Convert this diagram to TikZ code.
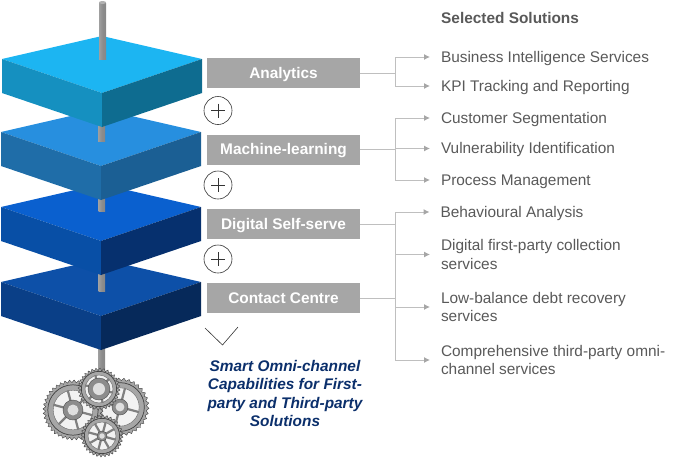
\documentclass[tikz,border=0pt]{standalone}
\usepackage{fontspec}
\setmainfont{Liberation Sans}
\usetikzlibrary{arrows.meta}
\definecolor{txtgray}{HTML}{595959}
\definecolor{boxgray}{HTML}{A6A6A6}
\definecolor{linegray}{HTML}{BFBFBF}
\definecolor{navy}{HTML}{0B2F6B}
\definecolor{anatop}{HTML}{1CB5F2}
\definecolor{analeft}{HTML}{1590C0}
\definecolor{anaright}{HTML}{0E6C90}
\definecolor{mactop}{HTML}{278FDF}
\definecolor{macleft}{HTML}{1F6DA8}
\definecolor{macright}{HTML}{1B5F94}
\definecolor{digtop}{HTML}{0A60CF}
\definecolor{digleft}{HTML}{084FA6}
\definecolor{digright}{HTML}{06306E}
\definecolor{contop}{HTML}{0D50A8}
\definecolor{conleft}{HTML}{0A3F87}
\definecolor{conright}{HTML}{06295A}
\tikzset{
  box/.style={fill=boxgray, text=white, font=\fontsize{15.4}{18}\selectfont\bfseries, minimum width=153pt, minimum height=30pt, inner sep=0pt, text height=10.7pt, text depth=0pt},
  sol/.style={anchor=west, align=left, text=txtgray, font=\fontsize{15.4}{18.4}\selectfont, inner sep=0pt, outer xsep=11pt},
  solone/.style={sol, text height=10.7pt, text depth=0pt},
  plus/.style={circle, draw=black!80, line width=0.6pt, minimum size=28pt, inner sep=0pt},
  branch/.style={draw=linegray, line width=1pt},
  arr/.style={branch, -{Latex[length=6pt,width=6pt,color=boxgray]}},
  rod/.style={left color=gray!75, right color=gray!95, middle color=gray!110!black},
}
% one slab: left corner x, y of the top face, then top, left and right colours
\newcommand{\slab}[5]{
  \fill[#3] (#1,#2) -- (#1+100,#2-23) -- (#1+200,#2) -- (#1+100,#2+34) -- cycle;
  \fill[#4] (#1,#2) -- (#1+100,#2+34) -- (#1+100,#2+68) -- (#1,#2+34) -- cycle;
  \fill[#5] (#1+200,#2) -- (#1+100,#2+34) -- (#1+100,#2+68) -- (#1+200,#2+34) -- cycle;
}
% one gear: centre x, y, radius, teeth, spoke angle step, hub radius
\newcommand{\gearwheel}[6]{
  \fill[gray!70, draw=black!75, line width=0.4pt] plot[samples=4*#4+1, domain=0:360] ({#1+(#3-1.3+1.3*sin(#4*\x))*cos(\x)}, {#2+(#3-1.3+1.3*sin(#4*\x))*sin(\x)}) -- cycle;
  \draw[black!75, line width=0.7pt] (#1,#2) circle ({#3*0.84});
  \fill[black!35] (#1,#2) circle ({#3*0.79});
  \fill[white!90!gray, draw=black!60, line width=0.4pt] (#1,#2) circle ({#3*0.66});
  \foreach \a in {0,#5,...,359}
    \draw[black!50, line width=2.2pt] (#1,#2) -- ({#1+#3*0.68*cos(\a+15)}, {#2+#3*0.68*sin(\a+15)});
  \fill[black!45, draw=black!70, line width=0.4pt] (#1,#2) circle (#6);
  \fill[white!75!gray] (#1,#2) circle ({#6*0.55});
}
\begin{document}
\begin{tikzpicture}[x=1pt, y=-1pt]
  \useasboundingbox (0,0) rectangle (697,475);

  % centre rod under the last slab
  \shade[rod] (98,345) rectangle (105,372);

  % gears
  \gearwheel{120}{407}{29}{34}{90}{8}
  \gearwheel{73}{410}{30}{40}{60}{10}
  \gearwheel{99}{389}{21}{32}{60}{11}
  \gearwheel{102}{436}{21}{32}{45}{5}

  % slabs, lowest first
  \slab{1}{282}{contop}{conleft}{conright}
  \shade[rod] (98.5,272) rectangle (105,291);
  \slab{1}{207}{digtop}{digleft}{digright}
  \shade[rod] (98.5,197) rectangle (105,211);
  \slab{1}{132}{mactop}{macleft}{macright}
  \shade[rod] (98,122) rectangle (105,141);
  \slab{2}{59}{anatop}{analeft}{anaright}
  \shade[rod] (99,3) rectangle (106,59);
  \fill[gray!60] (102.5,2.5) ellipse (3.5 and 1.5);

  % labels
  \node[box] (ana) at (283.5,73) {Analytics};
  \node[box] (mac) at (283.5,149.5) {Machine-learning};
  \node[box] (dig) at (283.5,224) {Digital Self-serve};
  \node[box] (con) at (283.5,298) {Contact Centre};

  \node[plus] (p1) at (218,110.5) {};
  \node[plus] (p2) at (218,185) {};
  \node[plus] (p3) at (218,259) {};
  \draw[black!80, line width=0.5pt] (p1.center) +(-7,0) -- +(7,0) +(0,-7) -- +(0,7);
  \draw[black!80, line width=0.5pt] (p2.center) +(-7,0) -- +(7,0) +(0,-7) -- +(0,7);
  \draw[black!80, line width=0.5pt] (p3.center) +(-7,0) -- +(7,0) +(0,-7) -- +(0,7);

  \coordinate (va) at (205,328);
  \coordinate (vb) at (222.5,345);
  \coordinate (vc) at (238,327);
  \draw[black!80, line width=0.6pt] (va) -- (vb) -- (vc);

  \node[font=\fontsize{15.4}{18.4}\selectfont\bfseries\itshape, text=navy, align=center, inner sep=0pt] (cap) at (285,393.5)
    {Smart Omni-channel\\Capabilities for First-\\party and Third-party\\Solutions};

  % solutions
  \node[font=\fontsize{15.4}{18}\selectfont\bfseries, text=txtgray, anchor=west, inner sep=0pt] (head) at (441,18) {Selected Solutions};
  \node[solone] (s1) at (430,57) {Business Intelligence Services};
  \node[solone] (s2) at (430,86) {KPI Tracking and Reporting};
  \node[solone] (s3) at (430,118) {Customer Segmentation};
  \node[solone] (s4) at (430,148.5) {Vulnerability Identification};
  \node[solone] (s5) at (430,180) {Process Management};
  \node[solone] (s6) at (429.5,212) {Behavioural Analysis};
  \node[sol] (s7) at (430,254.5) {Digital first-party collection\\services};
  \node[sol] (s8) at (430,307) {Low-balance debt recovery\\services};
  \node[sol] (s9) at (430,360) {Comprehensive third-party omni-\\channel services};

  % connectors
  \coordinate (b1) at (395,73);
  \coordinate (b2) at (395,149.5);
  \coordinate (b3) at (395,224);
  \coordinate (b4) at (395,298);
  \draw[branch] (ana) -- (b1);
  \draw[branch] (mac) -- (b2);
  \draw[branch] (dig) -- (b3);
  \draw[branch] (con) -- (b4);
  \draw[arr] (b1) |- (s1);
  \draw[arr] (b1) |- (s2);
  \draw[arr] (b2) |- (s3);
  \draw[arr] (b2) |- (s4);
  \draw[arr] (b2) |- (s5);
  \draw[arr] (b3) |- (s6);
  \draw[arr] (b3) |- (s7);
  \draw[arr] (b3) |- (s8);
  \draw[arr] (b3) |- (s9);
\end{tikzpicture}
\end{document}
